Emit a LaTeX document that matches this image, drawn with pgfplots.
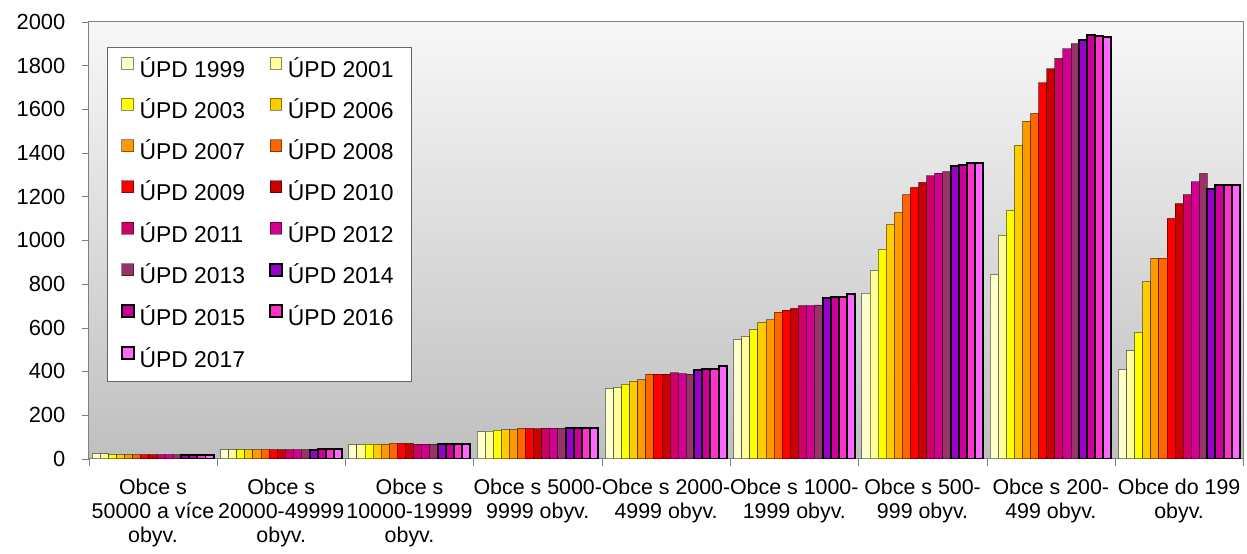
\documentclass[border=0pt]{standalone}
\usepackage{fontspec}
\setmainfont{Liberation Sans}
\usepackage{pgfplots}
\usepackage{pgfplotstable}
\pgfplotsset{compat=1.18}

\definecolor{c1999}{HTML}{FFFFCC}
\definecolor{c2001}{HTML}{FFFF99}
\definecolor{c2003}{HTML}{FFFF00}
\definecolor{c2006}{HTML}{FFCC00}
\definecolor{c2007}{HTML}{FF9900}
\definecolor{c2008}{HTML}{FF6600}
\definecolor{c2009}{HTML}{FF0000}
\definecolor{c2010}{HTML}{CC0000}
\definecolor{c2011}{HTML}{CC0066}
\definecolor{c2012}{HTML}{D20090}
\definecolor{c2013}{HTML}{993366}
\definecolor{c2014}{HTML}{9900CC}
\definecolor{c2015}{HTML}{CC0099}
\definecolor{c2016}{HTML}{FF33CC}
\definecolor{c2017}{HTML}{FF66FF}

% pocty UPD podle velikostnich kategorii obci
\pgfplotstableread{
x a1999 a2001 a2003 a2006 a2007 a2008 a2009 a2010 a2011 a2012 a2013 a2014 a2015 a2016 a2017
0  24   24   19   19   19   19   19   19   19   19   19   18   18   18   18
1  42   42   42   42   42   42   42   42   42   42   42   39   45   45   45
2  65   65   67   67   67   71   71   71   67   67   67   67   67   67   67
3  124  127  131  134  134  140  139  138  140  140  140  140  140  140  140
4  321  327  342  356  362  388  388  388  393  390  388  406  412  410  423
5  546  559  591  625  636  671  681  689  701  701  704  736  740  742  755
6  758  863  958  1072 1128 1209 1242 1265 1295 1308 1315 1339 1343 1356 1356
7  843  1024 1136 1435 1546 1581 1721 1785 1833 1876 1900 1918 1941 1936 1932
8  408  494  580  811  919  919  1101 1168 1209 1268 1306 1236 1255 1255 1255
}\upd

\pgfplotsset{
  thinbar/.style={fill=#1, draw=black, draw opacity=0.45, line width=0.5pt},
  thickbar/.style={fill=#1, draw=black, line width=1pt},
}

\begin{document}
\begin{tikzpicture}
\begin{axis}[
  name=ax,
  scale only axis,
  width=580pt, height=219.5pt,
  ybar=0pt, bar width=0.063,
  xmin=-0.5, xmax=8.5,
  ymin=0, ymax=2000,
  ytick={0,200,...,2000},
  xtick={0,...,8},
  xticklabels={
    {Obce s\\50000 a více\\obyv.},
    {Obce s\\20000-49999\\obyv.},
    {Obce s\\10000-19999\\obyv.},
    {Obce s 5000-\\9999 obyv.},
    {Obce s 2000-\\4999 obyv.},
    {Obce s 1000-\\1999 obyv.},
    {Obce s 500-\\999 obyv.},
    {Obce s 200-\\499 obyv.},
    {Obce do 199\\obyv.}},
  minor xtick={-0.5,0.5,...,8.5},
  major x tick style={draw=none},
  tick align=outside,
  major tick length=3.5pt, minor tick length=3.5pt,
  xtick pos=left, ytick pos=left,
  tick style={draw=black!50},
  axis line style={draw=black!50},
  axis background/.style={top color=black!3, bottom color=black!25},
  /pgf/number format/assume math mode=true,
  /pgf/number format/1000 sep={},
  yticklabel style={font=\fontsize{11}{13}\selectfont, xshift=-4.8pt},
  xticklabel style={font=\fontsize{10.75}{12}\selectfont, align=center, yshift=-3pt},
  legend columns=2,
  legend cell align=left,
  legend image code/.code={\draw[#1] (0pt,1.1pt) rectangle (6pt,7.1pt);},
  legend style={
    at={(0.016,0.943)}, anchor=north west,
    draw=black!60, fill=white,
    font=\fontsize{11.5}{13}\selectfont,
    inner xsep=6.5pt, inner ysep=4.8pt,
    row sep=7.85pt,
    nodes={inner xsep=2.5pt, inner ysep=0pt, text height=8.5pt, text depth=2.5pt},
    /tikz/every even column/.append style={column sep=9.5pt},
  },
]
\addplot[thinbar=c1999] table[x=x, y=a1999] {\upd};
\addplot[thinbar=c2001] table[x=x, y=a2001] {\upd};
\addplot[thinbar=c2003] table[x=x, y=a2003] {\upd};
\addplot[thinbar=c2006] table[x=x, y=a2006] {\upd};
\addplot[thinbar=c2007] table[x=x, y=a2007] {\upd};
\addplot[thinbar=c2008] table[x=x, y=a2008] {\upd};
\addplot[thinbar=c2009] table[x=x, y=a2009] {\upd};
\addplot[thinbar=c2010] table[x=x, y=a2010] {\upd};
\addplot[thinbar=c2011] table[x=x, y=a2011] {\upd};
\addplot[thinbar=c2012] table[x=x, y=a2012] {\upd};
\addplot[thinbar=c2013] table[x=x, y=a2013] {\upd};
\addplot[thickbar=c2014] table[x=x, y=a2014] {\upd};
\addplot[thickbar=c2015] table[x=x, y=a2015] {\upd};
\addplot[thickbar=c2016] table[x=x, y=a2016] {\upd};
\addplot[thickbar=c2017] table[x=x, y=a2017] {\upd};
\legend{ÚPD 1999, ÚPD 2001, ÚPD 2003, ÚPD 2006, ÚPD 2007, ÚPD 2008,
  ÚPD 2009, ÚPD 2010, ÚPD 2011, ÚPD 2012, ÚPD 2013, ÚPD 2014,
  ÚPD 2015, ÚPD 2016, ÚPD 2017}
\end{axis}
% white margin at left and top, as in the original
\path (ax.outer west) ++(-5pt,0);
\path (ax.north) ++(0,11pt);
\end{tikzpicture}
\end{document}
